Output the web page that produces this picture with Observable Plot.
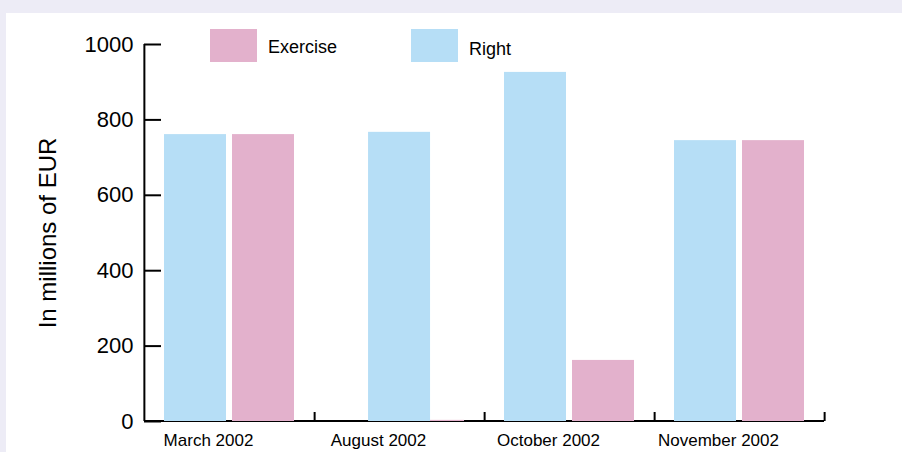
<!DOCTYPE html>
<html><head><meta charset="utf-8">
<script src="https://cdn.jsdelivr.net/npm/d3@7"></script>
<script src="https://cdn.jsdelivr.net/npm/@observablehq/plot@0.6"></script>
<style>
html,body{margin:0;padding:0;background:#edecf6;width:902px;height:452px;overflow:hidden;font-family:"Liberation Sans",Arial,sans-serif;}
#wrap{position:absolute;left:6px;top:13px;width:896px;height:439px;background:#fff;}
#legend{position:absolute;left:0;top:0;}
.sw{position:absolute;width:47px;height:33px;}
.lt{position:absolute;font-size:18px;color:#000;line-height:1;}
</style></head><body>
<div id="wrap"></div>
<div id="legend"></div>
<script>
const months = ["March 2002", "August 2002", "October 2002", "November 2002"];
const seriesNames = ["Right", "Exercise"];
const rightValues = [761, 767, 926, 745];
const exerciseValues = [761, 3, 162, 745];
const seriesColors = ["#b6def6", "#e3b1cc"];
const yTicks = [0, 200, 400, 600, 800, 1000];
const legendOrder = ["Exercise", "Right"];
const yLabel = "In millions of EUR";

const rows = months.flatMap((m, i) => [
  {month: m, series: "Right", value: rightValues[i]},
  {month: m, series: "Exercise", value: exerciseValues[i]}
]);

const W = 896, H = 439, ML = 137, MR = 78, MT = 31, MB = 31;
const facetW = (W - ML - MR) / months.length;
const plotH = H - MT - MB;
const pIn = 6 / 68, pOut = 20 / 68;
const step = facetW / (2 - pIn + 2 * pOut);
// months where the exercise is negligible: the right bar is centred in its group
const solo = new Set(months.filter((m, i) => exerciseValues[i] < 5));
const isSoloRight = d => d.series === "Right" && solo.has(d.month);

const chart = Plot.plot({
  width: W, height: H,
  marginLeft: ML, marginRight: MR, marginTop: MT, marginBottom: MB,
  style: {background: "transparent", fontFamily: "'Liberation Sans', Arial, sans-serif", color: "#000"},
  fx: {domain: months, padding: 0, label: null, axis: null},
  x: {domain: seriesNames, paddingInner: pIn, paddingOuter: pOut, axis: null},
  y: {domain: [0, 1000], axis: null},
  color: {domain: seriesNames, range: seriesColors},
  marks: [
    Plot.ruleY([0], {stroke: "#000", strokeWidth: 2, dy: -0.5}),
    Plot.barY(rows.filter(d => d.series === "Exercise"), {fx: "month", x: "series", y: "value", fill: "series"}),
    Plot.barY(rows.filter(d => d.series === "Right" && !isSoloRight(d)), {fx: "month", x: "series", y: "value", fill: "series"}),
    Plot.barY(rows.filter(isSoloRight), {fx: "month", x: "series", y: "value", fill: "series", dx: step / 2}),
    Plot.axisY({ticks: yTicks, tickFormat: d => String(d), tickSize: -17, tickPadding: 28, fontSize: 22, strokeWidth: 2, label: yLabel, labelArrow: "none", labelAnchor: "center", labelOffset: 106}),
    Plot.axisFx({anchor: "bottom", ticks: [months[0]], tickSize: -plotH, text: null, tickFormat: () => "", dx: -facetW / 2, strokeWidth: 2, label: null}),
    Plot.axisFx({anchor: "bottom", tickSize: 0, tickPadding: 12, dx: -21, fontSize: 17, label: null}),
    Plot.axisFx({anchor: "bottom", tickSize: -9, text: null, tickFormat: () => "", dx: facetW / 2, strokeWidth: 2, label: null})
  ]
});
document.getElementById("wrap").appendChild(chart);
d3.select(chart).selectAll("[aria-label='y-axis label'] text").style("font-size", "24px").text(yLabel);

const legend = document.getElementById("legend");
const legendPos = [{sx: 210, tx: 268}, {sx: 411, tx: 469}];
legendOrder.forEach((s, i) => {
  const sw = document.createElement("div");
  sw.className = "sw";
  sw.style.left = legendPos[i].sx + "px";
  sw.style.top = "29px";
  sw.style.background = seriesColors[seriesNames.indexOf(s)];
  legend.appendChild(sw);
  const t = document.createElement("div");
  t.className = "lt";
  t.textContent = s;
  t.style.left = legendPos[i].tx + "px";
  t.style.top = (i === 0 ? 38 : 40) + "px";
  legend.appendChild(t);
});
</script>
</body></html>
